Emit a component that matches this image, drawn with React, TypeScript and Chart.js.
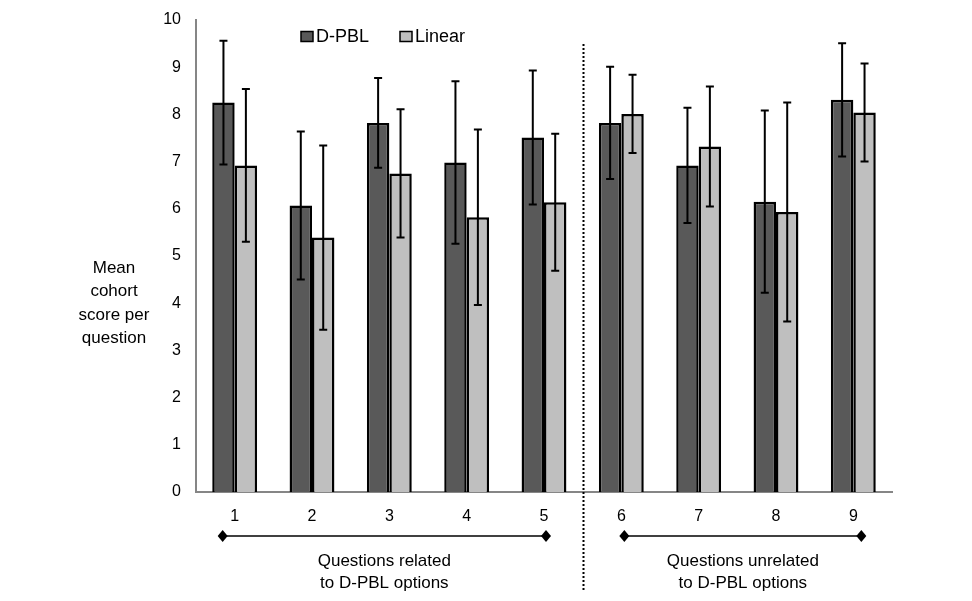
import React, { useEffect, useRef } from "react";
import { Chart, registerables } from "chart.js";

Chart.register(...registerables);

const categories = ["1", "2", "3", "4", "5", "6", "7", "8", "9"];
const dpblMeans = [8.25, 6.07, 7.82, 6.98, 7.51, 7.82, 6.92, 6.15, 8.31];
const dpblSD = [1.31, 1.57, 0.95, 1.72, 1.42, 1.19, 1.22, 1.93, 1.2];
const linearMeans = [6.92, 5.39, 6.75, 5.82, 6.14, 8.01, 7.32, 5.93, 8.04];
const linearSD = [1.62, 1.95, 1.36, 1.86, 1.45, 0.83, 1.27, 2.32, 1.04];
const seriesNames = ["D-PBL", "Linear"];
const seriesColors = ["#595959", "#bfbfbf"];
const yAxisTitle = ["Mean", "cohort", "score per", "question"];
const groupLabels = [
  { from: 0, to: 4, lines: ["Questions related", "to D-PBL options"] },
  { from: 5, to: 8, lines: ["Questions unrelated", "to D-PBL options"] },
];
const bracketOffsets = [
  [-12, 2],
  [3, 8],
];

const FONT = "'Liberation Sans', Arial, sans-serif";

const extrasPlugin = {
  id: "extras",
  afterDatasetsDraw(chart: any) {
    const ctx = chart.ctx;
    const y = chart.scales.y;
    const sds = [dpblSD, linearSD];
    ctx.save();
    chart.data.datasets.forEach((ds: any, di: number) => {
      const meta = chart.getDatasetMeta(di);
      meta.data.forEach((bar: any, i: number) => {
        const m = ds.data[i];
        const sd = sds[di][i];
        const yt = y.getPixelForValue(m + sd);
        const yb = y.getPixelForValue(m - sd);
        ctx.strokeStyle = "#000";
        ctx.lineWidth = 2;
        ctx.beginPath();
        ctx.moveTo(bar.x, yt);
        ctx.lineTo(bar.x, yb);
        ctx.moveTo(bar.x - 4, yt);
        ctx.lineTo(bar.x + 4, yt);
        ctx.moveTo(bar.x - 4, yb);
        ctx.lineTo(bar.x + 4, yb);
        ctx.stroke();
      });
    });
    ctx.restore();
  },
  afterDraw(chart: any) {
    const ctx = chart.ctx;
    const x = chart.scales.x;
    const area = chart.chartArea;
    ctx.save();
    // legend
    ctx.font = `18px ${FONT}`;
    ctx.textBaseline = "middle";
    ctx.textAlign = "left";
    const legendX = [301, 400];
    seriesNames.forEach((name, i) => {
      ctx.fillStyle = seriesColors[i];
      ctx.fillRect(legendX[i], 31.5, 12, 10);
      ctx.strokeStyle = "#000";
      ctx.lineWidth = 1.5;
      ctx.strokeRect(legendX[i], 31.5, 12, 10);
      ctx.fillStyle = "#000";
      ctx.fillText(name, legendX[i] + 15, 37);
    });
    // dotted separator
    const sepX = Math.round((x.getPixelForValue(4) + x.getPixelForValue(5)) / 2) + 0.5;
    ctx.strokeStyle = "#000";
    ctx.lineWidth = 2;
    ctx.setLineDash([2, 2]);
    ctx.beginPath();
    ctx.moveTo(sepX, 44);
    ctx.lineTo(sepX, 590);
    ctx.stroke();
    ctx.setLineDash([]);
    // y axis title
    ctx.font = `17px ${FONT}`;
    ctx.textAlign = "center";
    ctx.fillStyle = "#000";
    yAxisTitle.forEach((t, i) => ctx.fillText(t, 114, 268 + i * 23.5));
    // group brackets
    groupLabels.forEach((g, gi) => {
      const x1 = x.getPixelForValue(g.from) + bracketOffsets[gi][0];
      const x2 = x.getPixelForValue(g.to) + bracketOffsets[gi][1];
      const yy = area.bottom + 44;
      ctx.strokeStyle = "#000";
      ctx.lineWidth = 1.5;
      ctx.beginPath();
      ctx.moveTo(x1, yy);
      ctx.lineTo(x2, yy);
      ctx.stroke();
      [x1, x2].forEach((px) => {
        ctx.fillStyle = "#000";
        ctx.beginPath();
        ctx.moveTo(px, yy - 6);
        ctx.lineTo(px + 5, yy);
        ctx.lineTo(px, yy + 6);
        ctx.lineTo(px - 5, yy);
        ctx.closePath();
        ctx.fill();
      });
      const cx = (x1 + x2) / 2;
      ctx.font = `17px ${FONT}`;
      ctx.textAlign = "center";
      g.lines.forEach((t, i) => ctx.fillText(t, cx, yy + 25 + i * 22));
    });
    ctx.restore();
  },
};

export default function App() {
  const ref = useRef<HTMLCanvasElement>(null);
  useEffect(() => {
    document.body.style.margin = "0";
    const chart = new Chart(ref.current!, {
      type: "bar",
      data: {
        labels: categories,
        datasets: [
          {
            label: seriesNames[0],
            data: dpblMeans,
            backgroundColor: seriesColors[0],
            borderColor: "#000",
            borderWidth: 2.5,
          },
          {
            label: seriesNames[1],
            data: linearMeans,
            backgroundColor: seriesColors[1],
            borderColor: "#000",
            borderWidth: 2.5,
          },
        ],
      },
      options: {
        animation: false,
        responsive: false,
        devicePixelRatio: 1,
        layout: { padding: { top: 20, right: 80, left: 0, bottom: 0 } },
        datasets: { bar: { categoryPercentage: 0.58, barPercentage: 1 } },
        plugins: { legend: { display: false }, tooltip: { enabled: false } },
        scales: {
          x: {
            grid: { display: false, drawTicks: false },
            border: { display: true, color: "#868686", width: 2 },
            ticks: { color: "#000", font: { size: 16, family: FONT }, padding: 15 },
            afterFit: (s: any) => {
              s.height = 109;
              s.paddingLeft = 0;
              s.paddingRight = 0;
            },
          },
          y: {
            min: 0,
            max: 10,
            grid: { display: false, drawTicks: false },
            border: { display: true, color: "#868686", width: 2 },
            ticks: { stepSize: 1, color: "#000", font: { size: 16, family: FONT }, padding: 15 },
            afterFit: (s: any) => {
              s.width = 196;
              s.paddingTop = 0;
              s.paddingBottom = 0;
            },
          },
        },
      },
      plugins: [extrasPlugin],
    });
    return () => chart.destroy();
  }, []);
  return <canvas ref={ref} width={972} height={601} style={{ display: "block" }} />;
}
